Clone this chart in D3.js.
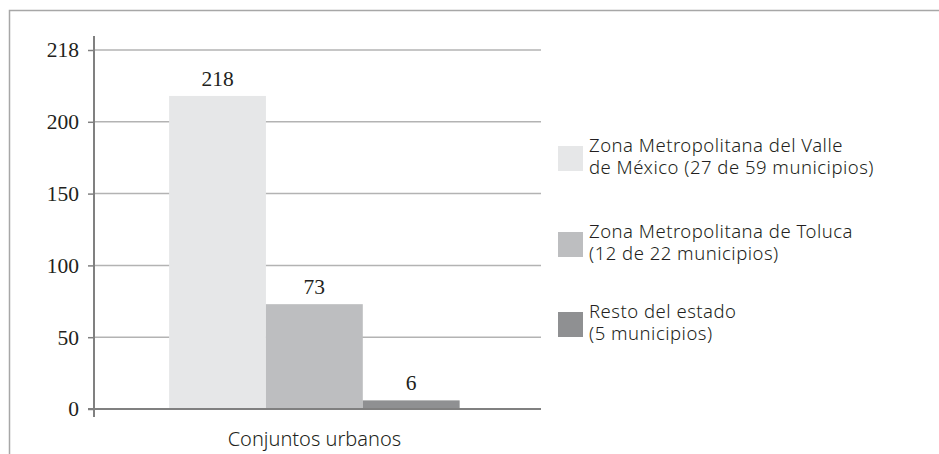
<!DOCTYPE html>
<html>
<head>
<meta charset="utf-8">
<script src="https://cdn.jsdelivr.net/npm/d3@7"></script>
<style>
  html, body { margin: 0; padding: 0; background: #fff; }
  svg { display: block; }
</style>
</head>
<body>
<svg id="chart"></svg>
<script>
// data
const categoria = ["Conjuntos urbanos"];
const series = ["zmvm", "zmt", "resto"];
const valores = [218, 73, 6];
const leyenda = [
  ["Zona Metropolitana del Valle", "de México (27 de 59 municipios)"],
  ["Zona Metropolitana de Toluca", "(12 de 22 municipios)"],
  ["Resto del estado", "(5 municipios)"]
];
// the original axis puts "218" where 250 would sit
const tickValues = [0, 50, 100, 150, 200, 250];
const tickLabels = ["0", "50", "100", "150", "200", "218"];

const colores = ["#e6e7e8", "#bdbec0", "#8f9092"];

const w = 939, h = 454;
const svg = d3.select("#chart").attr("width", w).attr("height", h);

const serif = "'Liberation Serif', 'DejaVu Serif', serif";
const sans = "'Noto Sans', 'Open Sans', sans-serif";

// outer frame (top and left only)
svg.append("path")
  .attr("d", `M9.5,${h} L9.5,10.5 L${w},10.5`)
  .attr("fill", "none")
  .attr("stroke", "#a7a7a7")
  .attr("stroke-width", 1.5);

const plot = { left: 94, right: 541, top: 50, bottom: 409 };

const y = d3.scaleLinear()
  .domain([0, 250])
  .range([plot.bottom, plot.top]);

const x0 = d3.scaleBand()
  .domain(categoria)
  .range([plot.left, plot.right])
  .paddingInner(0.35)
  .paddingOuter(0.175)
  .align(0.48);

const x1 = d3.scaleBand()
  .domain(series)
  .range([0, x0.bandwidth()])
  .padding(0);

// gridlines
svg.append("g")
  .selectAll("line")
  .data(tickValues.slice(1))
  .join("line")
  .attr("x1", plot.left)
  .attr("x2", plot.right)
  .attr("y1", d => y(d))
  .attr("y2", d => y(d))
  .attr("stroke", "#b3b3b3")
  .attr("stroke-width", 1.5);

// bars
const g = svg.append("g")
  .attr("transform", `translate(${x0(categoria[0])},0)`);

g.selectAll("rect")
  .data(valores)
  .join("rect")
  .attr("x", (d, i) => x1(series[i]))
  .attr("width", x1.bandwidth())
  .attr("y", d => y(d))
  .attr("height", d => y(0) - y(d))
  .attr("fill", (d, i) => colores[i]);

g.selectAll("text")
  .data(valores)
  .join("text")
  .attr("x", (d, i) => x1(series[i]) + x1.bandwidth() / 2)
  .attr("y", d => y(d) - 10)
  .attr("text-anchor", "middle")
  .attr("font-family", serif)
  .attr("font-size", 21.5)
  .attr("fill", "#231f20")
  .text(d => d);

// y axis
const yAxis = d3.axisLeft(y)
  .tickValues(tickValues)
  .tickFormat((d, i) => tickLabels[i])
  .tickSize(6)
  .tickPadding(9);

const ya = svg.append("g")
  .attr("transform", `translate(${plot.left},0)`)
  .call(yAxis);
ya.select(".domain").remove();
ya.selectAll(".tick line").attr("stroke", "#808080").attr("stroke-width", 1.5);
ya.selectAll(".tick text")
  .attr("font-family", serif)
  .attr("font-size", 21.5)
  .attr("fill", "#231f20");

svg.append("line")
  .attr("x1", plot.left).attr("x2", plot.left)
  .attr("y1", 36).attr("y2", 417)
  .attr("stroke", "#808080")
  .attr("stroke-width", 2);

// baseline
svg.append("line")
  .attr("x1", plot.left - 6).attr("x2", plot.right)
  .attr("y1", y(0)).attr("y2", y(0))
  .attr("stroke", "#808080")
  .attr("stroke-width", 2);

// category label
svg.append("text")
  .attr("x", x0(categoria[0]) + x0.bandwidth() / 2)
  .attr("y", 446)
  .attr("text-anchor", "middle")
  .attr("font-family", sans)
  .attr("font-weight", 300)
  .attr("font-size", 20)
  .attr("fill", "#231f20")
  .text(categoria[0]);

// legend
const legTop = [146, 232, 312];
const lg = svg.append("g").selectAll("g")
  .data(leyenda)
  .join("g")
  .attr("transform", (d, i) => `translate(558,${legTop[i]})`);

lg.append("rect")
  .attr("width", 25)
  .attr("height", 25)
  .attr("fill", (d, i) => colores[i]);

lg.selectAll("text")
  .data(d => d)
  .join("text")
  .attr("x", 31)
  .attr("y", (d, i) => 6 + i * 22)
  .attr("font-family", sans)
  .attr("font-weight", 300)
  .attr("font-size", 18.5)
  .attr("letter-spacing", 0.5)
  .attr("fill", "#231f20")
  .text(d => d);
</script>
</body>
</html>
